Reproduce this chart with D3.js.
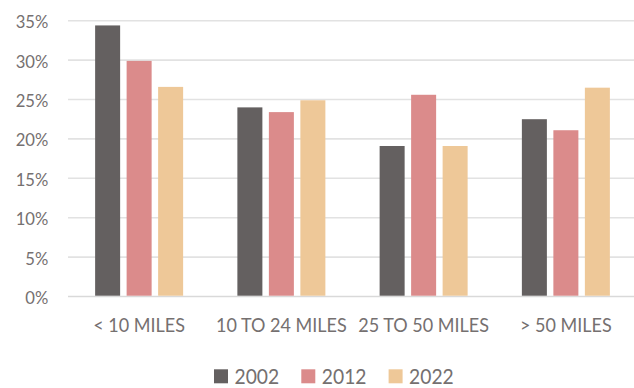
<!DOCTYPE html>
<html>
<head>
<meta charset="utf-8">
<script src="https://cdn.jsdelivr.net/npm/d3@7"></script>
<style>
  html, body { margin: 0; padding: 0; background: #ffffff; }
  svg { display: block; }
  text { font-family: Lato, "Noto Sans", sans-serif; fill: #757070; }
</style>
</head>
<body>
<svg id="chart" width="634" height="388"></svg>
<script>
const categories = ["< 10 MILES", "10 TO 24 MILES", "25 TO 50 MILES", "> 50 MILES"];
const seriesNames = ["2002", "2012", "2022"];
const values2002 = [0.344, 0.240, 0.191, 0.225];
const values2012 = [0.299, 0.234, 0.256, 0.211];
const values2022 = [0.266, 0.249, 0.191, 0.265];
const yTicks = [0, 0.05, 0.10, 0.15, 0.20, 0.25, 0.30, 0.35];
const colors = ["#646060", "#DB8B8B", "#EEC898"];

const seriesValues = [values2002, values2012, values2022];
const svg = d3.select("#chart");

const plot = { left: 68, right: 637, top: 20.7, bottom: 296.5 };

const y = d3.scaleLinear().domain([0, 0.35]).range([plot.bottom, plot.top]);
const x0 = d3.scaleBand().domain(categories).range([plot.left, plot.right]).paddingInner(0).paddingOuter(0);
const groupW = 88;
const x1 = d3.scaleBand().domain(seriesNames)
  .range([(x0.bandwidth() - groupW) / 2, (x0.bandwidth() + groupW) / 2])
  .paddingInner(0.206).paddingOuter(0);

function measure(str, size) {
  const t = svg.append("text").attr("font-size", size).text(str);
  const w = t.node().getComputedTextLength();
  t.remove();
  return w;
}
// a slightly taller font, compressed horizontally so the widths match the reference
function styleSet(refStr, refWidth, size) {
  const k = refWidth / measure(refStr, size);
  return sel => sel.each(function () {
    const s = d3.select(this).attr("font-size", size);
    const w = this.getComputedTextLength();
    s.attr("textLength", w * k).attr("lengthAdjust", "spacingAndGlyphs");
  });
}

// gridlines
svg.append("g").selectAll("line").data(yTicks).join("line")
  .attr("x1", plot.left).attr("x2", plot.right)
  .attr("y1", d => y(d)).attr("y2", d => y(d))
  .attr("stroke", d => d === 0 ? "#d9d9d9" : "#e2e2e2")
  .attr("stroke-width", 1.6);

// y axis labels
const yAxis = d3.axisLeft(y).tickValues(yTicks).tickFormat(d3.format(".0%")).tickSize(0).tickPadding(0);
const gy = svg.append("g").attr("transform", `translate(48.3,0)`).call(yAxis);
gy.select(".domain").remove();
gy.selectAll("text")
  .attr("font-family", "Lato, 'Noto Sans', sans-serif")
  .attr("fill", "#757070")
  .attr("dy", null)
  .attr("dominant-baseline", "central")
  .call(styleSet("35%", 32.6, 17.8));

// bars
const groups = svg.append("g").selectAll("g").data(categories).join("g")
  .attr("transform", d => `translate(${x0(d)},0)`);
groups.selectAll("rect")
  .data((d, i) => seriesNames.map((s, j) => ({ s, j, v: seriesValues[j][i] })))
  .join("rect")
  .attr("x", d => x1(d.s))
  .attr("width", x1.bandwidth())
  .attr("y", d => y(d.v))
  .attr("height", d => y(0) - y(d.v) - 0.8)
  .attr("fill", d => colors[d.j]);

// x axis labels
const xAxis = d3.axisBottom(x0).tickSize(0).tickPadding(0);
const gx = svg.append("g").attr("transform", `translate(0,331.5)`).call(xAxis);
gx.select(".domain").remove();
gx.selectAll("text")
  .attr("font-family", "Lato, 'Noto Sans', sans-serif")
  .attr("fill", "#757070")
  .attr("y", 0).attr("dy", null)
  .call(styleSet("< 10 MILES", 91.7, 19.2));

// legend
const legend = svg.append("g").selectAll("g").data(seriesNames).join("g")
  .attr("transform", (d, i) => `translate(${214 + i * 87.3},369.3)`);
legend.append("rect").attr("width", 14).attr("height", 14).attr("fill", (d, i) => colors[i]);
legend.append("text").attr("x", 20.5).attr("y", 14.6).text(d => d)
  .call(styleSet("2002", 44.7, 20.5));
</script>
</body>
</html>
